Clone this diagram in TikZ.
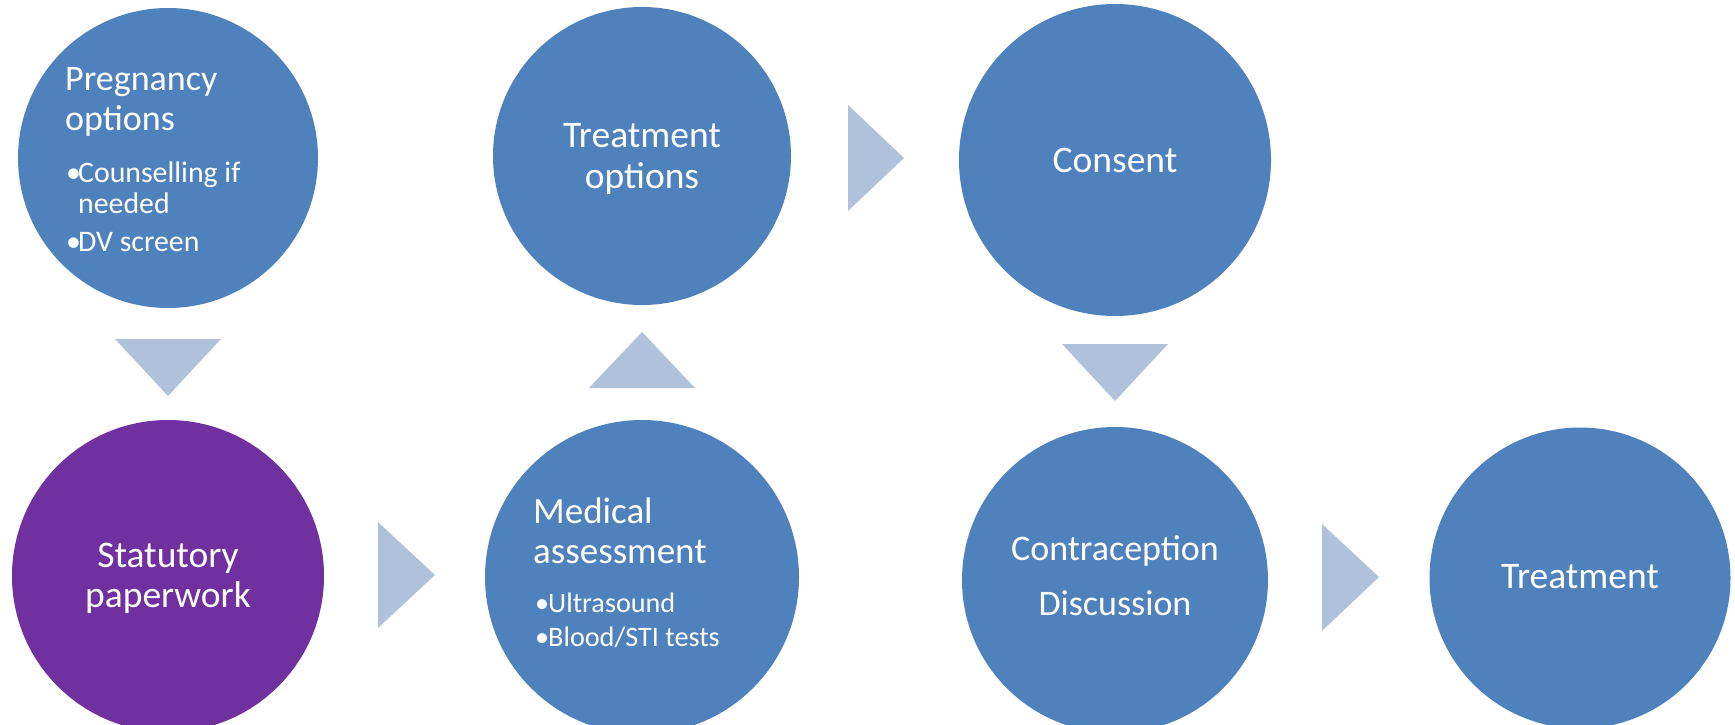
\documentclass[tikz,border=0pt]{standalone}
\usepackage{fontspec}
\setmainfont{Carlito}
\definecolor{cblue}{HTML}{4F81BD}
\definecolor{cpurple}{HTML}{7030A0}
\definecolor{carrow}{HTML}{B0C1DC}
\begin{document}
\begin{tikzpicture}[x=1pt,y=-1pt,
  stepcircle/.style={circle,fill=#1,draw=none,inner sep=0pt},
  arrowtri/.style={fill=carrow,draw=none},
  ttl/.style={font=\fontsize{37.5}{41}\selectfont,text=white,inner sep=0pt,anchor=base},
  ttlsmall/.style={font=\fontsize{36}{40}\selectfont,text=white,inner sep=0pt,anchor=base west},
  ttlleft/.style={font=\fontsize{37}{41}\selectfont,text=white,inner sep=0pt,anchor=base west},
  bulp/.style={font=\fontsize{29.8}{34}\selectfont,text=white,inner sep=0pt,anchor=base west},
  bulm/.style={font=\fontsize{28.2}{32}\selectfont,text=white,inner sep=0pt,anchor=base west}]
\useasboundingbox (0,0) rectangle (1735,725);
\clip (0,0) rectangle (1735,725);
% circles
\node[stepcircle=cblue, minimum size=300pt] (preg) at (168,158) {};
\node[stepcircle=cpurple, minimum size=312pt] (stat) at (168,576) {};
\node[stepcircle=cblue, minimum size=314pt] (med) at (642,577) {};
\node[stepcircle=cblue, minimum size=298pt] (topt) at (642,156) {};
\node[stepcircle=cblue, minimum size=312pt] (cons) at (1115,160) {};
\node[stepcircle=cblue, minimum size=306pt] (contra) at (1115,580) {};
\node[stepcircle=cblue, minimum size=301pt] (treat) at (1580,578) {};
% arrows
\fill[arrowtri] (115,339) -- (221,339) -- (168,396) -- cycle;
\fill[arrowtri] (378,522) -- (435,575) -- (378,628) -- cycle;
\fill[arrowtri] (589,388) -- (695,388) -- (642,332) -- cycle;
\fill[arrowtri] (848,105) -- (904,158) -- (848,211) -- cycle;
\fill[arrowtri] (1062,344) -- (1168,344) -- (1115,401) -- cycle;
\fill[arrowtri] (1322,524) -- (1379,577) -- (1322,631) -- cycle;
% texts: Pregnancy options
\node[ttlsmall] (pregt1) at (65,90) {Pregnancy};
\node[ttlsmall] (pregt2) at (65,130) {options};
\node[bulp] (pregb1) at (66,182) {\makebox[12pt][l]{•}Counselling if};
\node[bulp] (pregb2) at (78,213) {needed};
\node[bulp] (pregb3) at (66,251) {\makebox[12pt][l]{•}DV screen};
% Statutory paperwork
\node[ttl] (statt1) at (168,567) {Statutory};
\node[ttl] (statt2) at (168,607) {paperwork};
% Medical assessment
\node[ttlleft] (medt1) at (533,523) {Medical};
\node[ttlleft] (medt2) at (533,563) {assessment};
\node[bulm] (medb1) at (535,612) {\makebox[13pt][l]{•}Ultrasound};
\node[bulm] (medb2) at (535,646) {\makebox[13pt][l]{•}Blood/STI tests};
% Treatment options
\node[ttl] (toptt1) at (642,147) {Treatment};
\node[ttl] (toptt2) at (642,188) {options};
% Consent
\node[ttl] (const) at (1115,172) {Consent};
% Contraception Discussion
\node[ttl,font=\fontsize{36}{40}\selectfont] (contrat1) at (1115,560) {Contraception};
\node[ttl,font=\fontsize{36}{40}\selectfont] (contrat2) at (1115,615) {Discussion};
% Treatment
\node[ttl] (treatt) at (1580,588) {Treatment};
\end{tikzpicture}
\end{document}
